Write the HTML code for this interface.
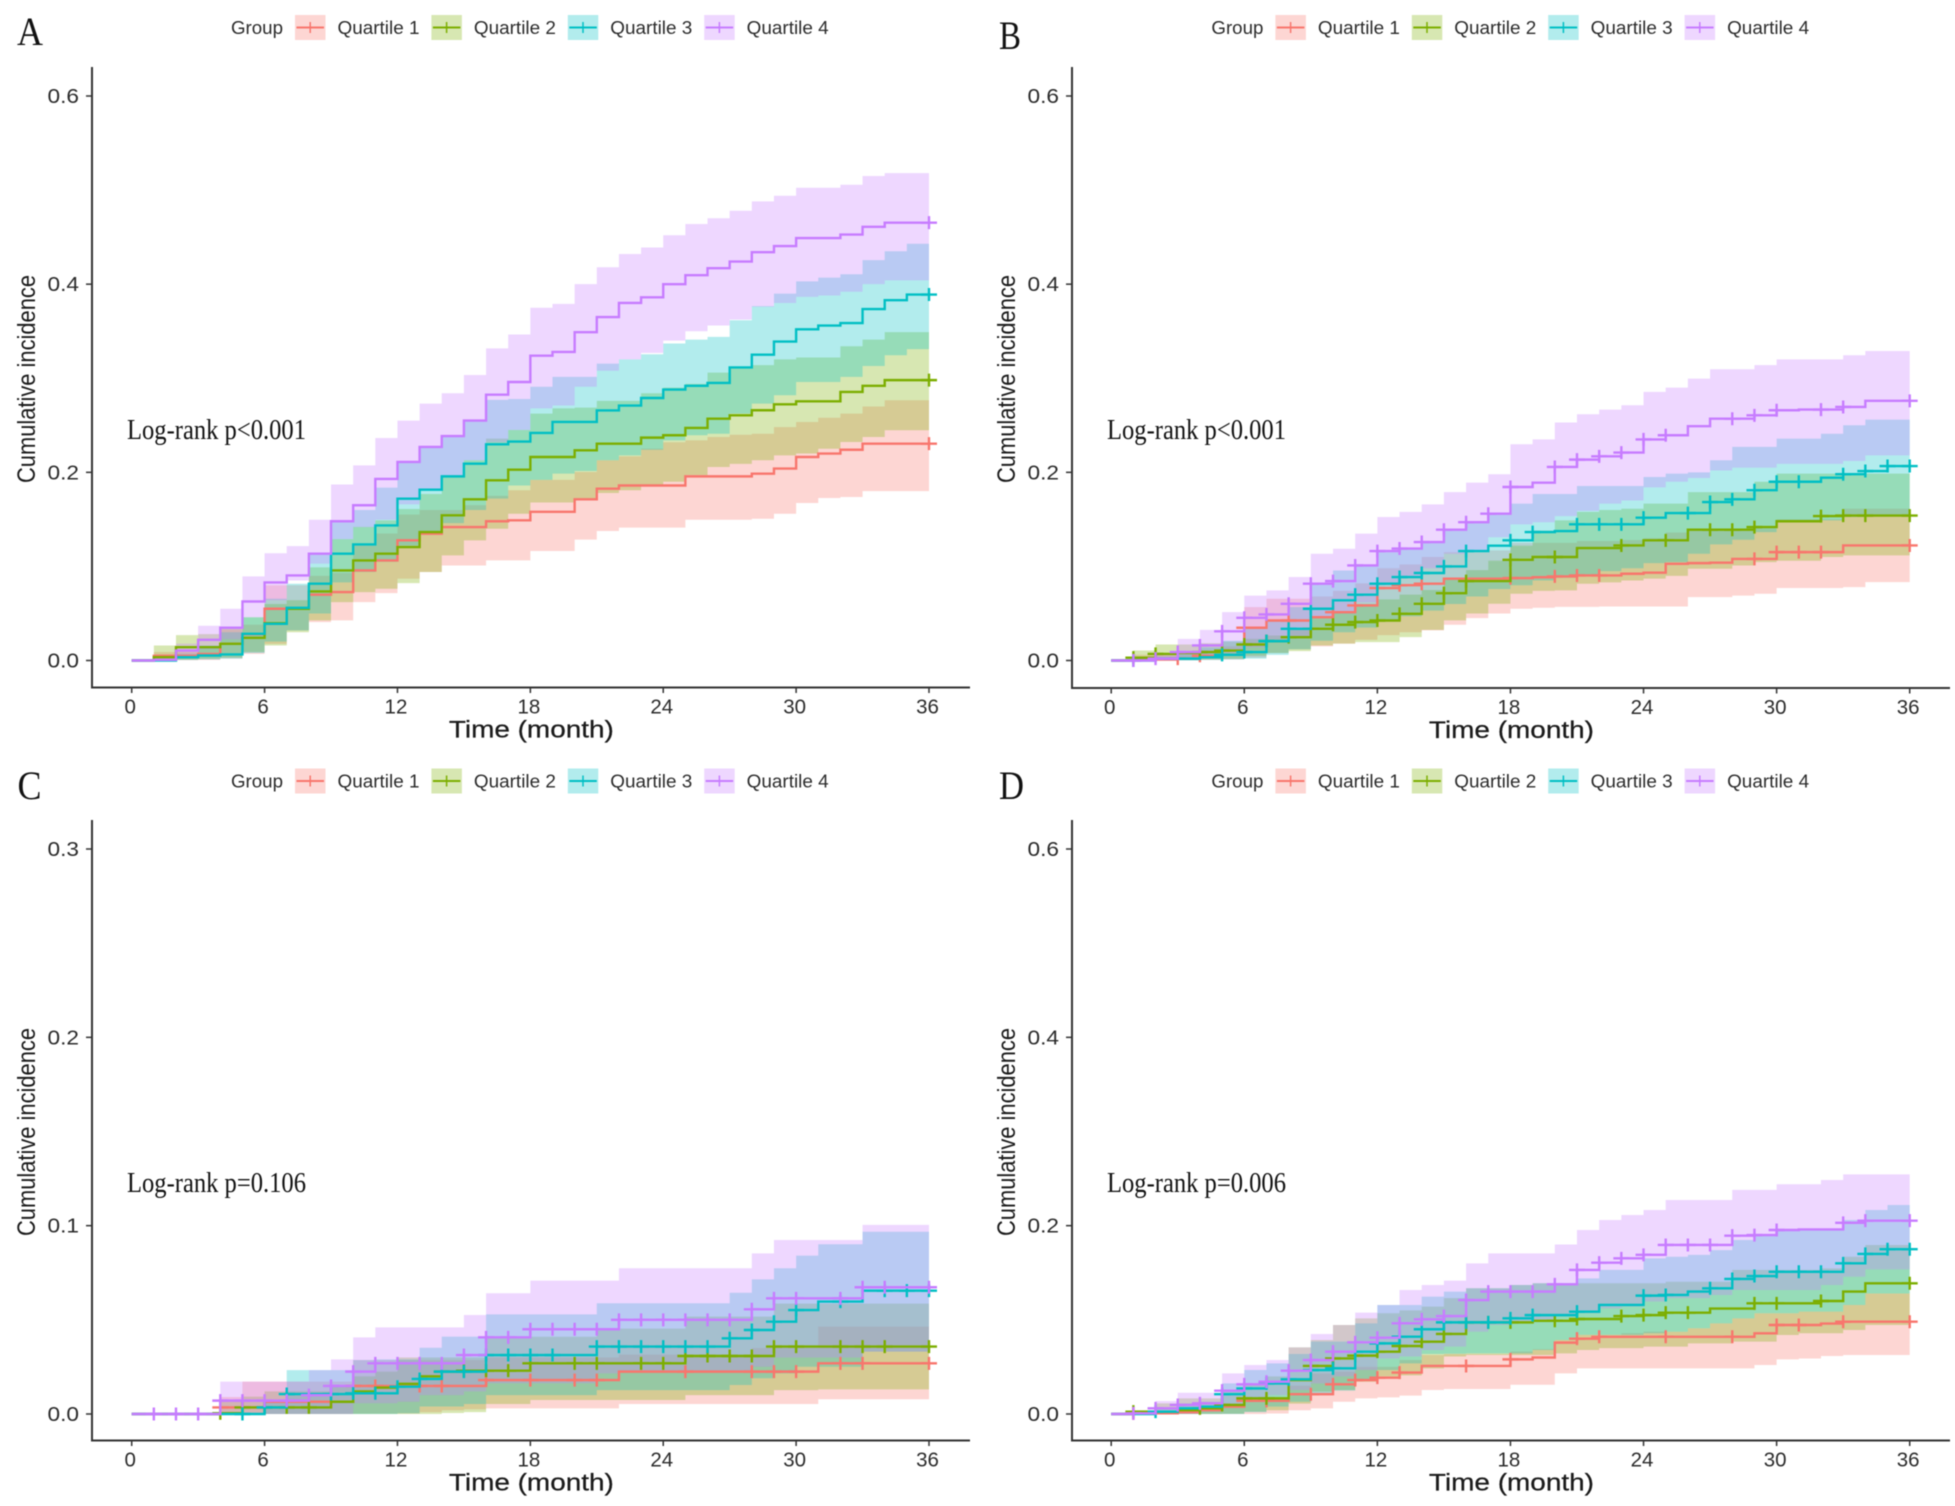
<!DOCTYPE html>
<html lang="en">
<head>
<meta charset="utf-8">
<title>Cumulative incidence by quartile</title>
<style>
html,body{margin:0;padding:0;background:#fff;width:1955px;height:1506px;overflow:hidden}
svg{display:block;filter:blur(0.6px)}
text{font-family:"Liberation Sans",sans-serif}
.serif{font-family:"Liberation Serif",serif}
</style>
</head>
<body>
<svg id="figure" xmlns="http://www.w3.org/2000/svg" width="1955" height="1506" viewBox="0 0 1955 1506"></svg>
<script>
// ---------- shared labels ----------
const xTickValues = [0, 6, 12, 18, 24, 30, 36];
const yTicksWide = [0, 0.2, 0.4, 0.6];
const yTicksNarrow = [0, 0.1, 0.2, 0.3];
const legendLabels = ['Quartile 1', 'Quartile 2', 'Quartile 3', 'Quartile 4'];
const seriesColors = ['#F8766D', '#7CAE00', '#00BFC4', '#C77CFF'];

// ---------- Panel A (value per month, index = month 0..36) ----------
const a_q1 = [0,.005,.005,.007,.0177,.028,.055,.055,.07,.0727,.0957,.1064,.1277,.1348,.1418,.1418,.148,.149,.158,.158,.1713,.1826,.186,.186,.186,.1957,.1957,.1957,.1986,.204,.2163,.22,.224,.2305,.2305,.2305,.2305];
const a_q1_up = [0,.009,.009,.013,.033,.038,.08,.08,.09,.093,.122,.135,.155,.16,.16,.165,.175,.181,.192,.192,.2004,.2128,.217,.225,.232,.234,.2376,.24,.241,.248,.2535,.258,.2624,.27,.2766,.2766,.2766];
const a_q1_lo = [0,0,.0003,.0005,.002,.007,.0177,.032,.0408,.0426,.062,.0716,.087,.094,.101,.101,.1064,.1064,.1164,.1164,.1285,.1377,.1412,.1412,.1412,.1496,.1496,.1496,.1507,.156,.1674,.1727,.1738,.18,.18,.18,.18];
const a_q2 = [0,.0035,.0142,.0142,.0177,.0241,.0397,.055,.0734,.0957,.1064,.1135,.1206,.1365,.1543,.1713,.1915,.2028,.2163,.2163,.2234,.2305,.2305,.2369,.2394,.2472,.257,.2606,.266,.2723,.2755,.2755,.2855,.292,.298,.298,.298];
const a_q2_up = [0,.016,.027,.028,.035,.046,.06,.064,.099,.129,.142,.149,.161,.177,.195,.2128,.2358,.245,.2624,.268,.2688,.276,.276,.284,.29,.294,.306,.312,.314,.32,.322,.322,.334,.341,.349,.349,.349];
const a_q2_lo = [0,0,.001,.002,.003,.009,.016,.03,.0426,.0621,.0727,.0762,.0823,.094,.1117,.1277,.14,.156,.168,.168,.172,.178,.181,.186,.19,.197,.2057,.209,.2128,.218,.22,.225,.2323,.2376,.2447,.2447,.2447];
const a_q3 = [0,0,.0035,.0053,.0064,.0284,.039,.056,.0816,.1135,.1234,.1436,.172,.1816,.1957,.2092,.2298,.2327,.2419,.2536,.2536,.2658,.271,.279,.288,.292,.295,.3115,.325,.339,.352,.356,.3587,.3735,.383,.389,.389];
const a_q3_up = [0,0,.007,.016,.03,.046,.0656,.0816,.113,.148,.16,.1837,.211,.227,.238,.2546,.277,.278,.291,.3014,.3014,.3156,.32,.3255,.337,.341,.344,.3617,.3766,.39,.403,.407,.4106,.4255,.435,.443,.443];
const a_q3_lo = [0,0,.0005,.001,.002,.008,.02,.032,.05,.083,.094,.105,.122,.135,.146,.16,.172,.186,.192,.1986,.2014,.2128,.218,.224,.234,.2394,.241,.2624,.273,.282,.296,.296,.3014,.313,.3245,.331,.331];
const a_q4 = [0,.0007,.0106,.022,.0348,.0627,.083,.0904,.1135,.148,.165,.193,.211,.227,.2385,.255,.2825,.296,.324,.328,.349,.365,.38,.386,.4,.4095,.417,.424,.434,.4405,.449,.449,.4527,.461,.4654,.4654,.4654];
const a_q4_up = [0,.003,.018,.037,.055,.0894,.114,.1216,.1496,.187,.2074,.2365,.255,.273,.284,.3034,.3318,.3465,.375,.379,.4,.418,.432,.439,.452,.464,.47,.478,.488,.494,.5025,.5025,.5056,.515,.518,.518,.518];
const a_q4_lo = [0,0,.004,.012,.0226,.046,.064,.085,.103,.129,.1418,.1496,.166,.181,.195,.2128,.232,.245,.268,.271,.291,.308,.32,.327,.34,.35,.356,.3625,.376,.38,.3865,.388,.392,.4,.404,.404,.404];
const a_censor_q1 = [36];
const a_censor_q2 = [36];
const a_censor_q3 = [36];
const a_censor_q4 = [36];

// ---------- Panel B ----------
const b_q1 = [0,.001,.001,.002,.005,.006,.0348,.0425,.0425,.046,.0514,.0585,.077,.08,.0816,.087,.087,.087,.0876,.0885,.0894,.0904,.0904,.0922,.0933,.1028,.1035,.104,.108,.108,.1152,.1152,.1152,.1223,.1223,.1223,.1223];
const b_q1_up = [0,.006,.006,.009,.011,.015,.0567,.0656,.0656,.068,.074,.082,.098,.102,.11,.115,.115,.117,.125,.125,.125,.127,.127,.128,.13,.136,.138,.138,.14,.14,.15,.15,.15,.1613,.1613,.1613,.1613];
const b_q1_lo = [0,0,0,.0003,.0005,.001,.003,.008,.012,.015,.018,.022,.027,.03,.032,.038,.045,.05,.055,.056,.057,.057,.0574,.0574,.0574,.0574,.0674,.0674,.069,.071,.077,.077,.077,.078,.0833,.0833,.0833];
const b_q2 = [0,.003,.007,.008,.009,.0106,.017,.0206,.0248,.0337,.038,.0408,.0425,.0496,.0603,.0716,.0844,.0844,.107,.11,.11,.1195,.1195,.1223,.1277,.1277,.139,.139,.139,.1418,.148,.148,.1535,.154,.154,.154,.154];
const b_q2_up = [0,.0106,.017,.017,.0184,.02,.023,.0266,.0337,.045,.052,.06,.065,.07,.075,.087,.096,.106,.122,.138,.149,.158,.16,.1613,.1667,.1667,.179,.179,.179,.19,.1986,.1986,.1986,.1986,.1986,.1986,.1986];
const b_q2_lo = [0,0,.0005,.001,.0015,.002,.005,.008,.01,.016,.018,.0195,.0195,.0248,.0326,.0426,.05,.0603,.071,.074,.0745,.0816,.083,.085,.087,.09,.0975,.0975,.101,.1046,.106,.106,.11,.1117,.1117,.1117,.1117];
const b_q3 = [0,0,.002,.002,.0035,.006,.009,.0206,.0337,.055,.064,.07,.0816,.0887,.093,.1,.1163,.122,.1277,.1365,.1376,.1447,.1447,.1447,.1518,.1567,.1567,.1684,.1713,.181,.19,.19,.1943,.198,.2014,.2067,.2067];
const b_q3_up = [0,0,.004,.009,.014,.021,.0355,.0425,.0567,.0816,.0957,.101,.1152,.119,.126,.139,.147,.156,.1667,.177,.177,.1855,.1855,.1855,.195,.1986,.2,.2128,.227,.227,.2358,.2358,.241,.25,.256,.256,.256];
const b_q3_lo = [0,0,0,0,.0005,.001,.002,.006,.012,.021,.03,.035,.043,.047,.053,.06,.068,.076,.08,.085,.088,.09,.095,.098,.1035,.1046,.1135,.1234,.1283,.1365,.148,.148,.149,.1525,.154,.154,.154];
const b_q4 = [0,0,.002,.009,.016,.031,.0454,.049,.0603,.0816,.0844,.101,.1163,.119,.1259,.139,.147,.156,.1844,.189,.2057,.2135,.217,.221,.235,.2394,.249,.257,.257,.2606,.266,.2667,.2667,.2695,.276,.276,.276];
const b_q4_up = [0,.001,.008,.023,.0326,.0514,.069,.0745,.0887,.1135,.1188,.1348,.1525,.158,.166,.179,.189,.198,.2298,.235,.253,.2617,.2667,.2713,.2855,.29,.2996,.3096,.3096,.314,.32,.32,.32,.3245,.329,.329,.329];
const b_q4_lo = [0,0,.0003,.001,.003,.008,.014,.022,.025,.045,.05,.062,.08,.088,.098,.1135,.117,.131,.1447,.147,.1535,.159,.1667,.17,.184,.19,.194,.202,.205,.205,.209,.209,.209,.212,.218,.218,.218];
const b_censor_q1 = [3,4,6,8,10,11,12,13,14,18,20,21,22,29,30,31,32,36];
const b_censor_q2 = [1,2,4,5,6,7,8,9,10,11,12,13,14,15,16,18,20,23,25,27,28,29,32,33,34,36];
const b_censor_q3 = [1,5,6,7,8,9,11,12,13,14,15,16,18,19,21,22,23,24,26,27,28,29,30,31,33,34,35,36];
const b_censor_q4 = [1,2,3,4,5,6,7,8,9,10,11,12,13,14,15,16,17,18,20,21,22,23,24,25,28,29,30,32,33,36];

// ---------- Panel C ----------
const c_q1 = [0,0,0,0,.0035,.0035,.0065,.0065,.0065,.0065,.0149,.0149,.0149,.0149,.0149,.0149,.018,.018,.018,.018,.018,.018,.0225,.0225,.0225,.0225,.0225,.0225,.0225,.0225,.0225,.0269,.0269,.0269,.0269,.0269,.0269];
const c_q1_up = [0,0,0,0,.009,.0172,.0172,.0172,.0172,.0172,.0287,.0287,.0287,.0287,.0287,.0287,.03,.03,.03,.03,.03,.03,.0315,.0315,.0315,.0315,.0315,.0315,.035,.035,.035,.0464,.0464,.0464,.0464,.0464,.0464];
const c_q1_lo = [0,0,0,0,0,0,0,0,0,0,.0002,.0002,.0003,.001,.002,.0025,.003,.003,.003,.003,.003,.003,.0053,.0053,.0053,.0053,.0053,.0053,.0053,.0053,.0053,.0078,.0078,.0078,.0078,.0078,.0078];
const c_q2 = [0,0,0,0,.0004,.0035,.0035,.0035,.0035,.0065,.012,.014,.016,.02,.0225,.023,.023,.023,.0269,.0269,.0269,.0269,.0269,.0269,.0269,.0308,.0308,.0308,.0308,.0358,.0358,.0358,.0358,.0358,.0358,.0358,.0358];
const c_q2_up = [0,0,0,0,.0074,.0092,.012,.012,.012,.0154,.02,.0225,.03,.03,.03,.03,.041,.041,.041,.041,.041,.0453,.0453,.0453,.0453,.0517,.0517,.0517,.0517,.0586,.0586,.0586,.0586,.0586,.0586,.0586,.0586];
const c_q2_lo = [0,0,0,0,0,0,0,0,0,0,0,0,0,0,.0005,.001,.0053,.0053,.0074,.0074,.0074,.0074,.0074,.0074,.0074,.01,.01,.01,.01,.0127,.0127,.0131,.0131,.0131,.0131,.0131,.0131];
const c_q3 = [0,0,0,0,0,0,.0035,.0106,.0106,.0106,.011,.011,.0145,.0186,.0225,.0225,.0313,.0313,.0313,.0313,.0313,.0358,.0358,.0358,.0358,.0358,.0358,.0402,.0446,.049,.0552,.0597,.0597,.0655,.0655,.0655,.0655];
const c_q3_up = [0,0,0,0,0,0,.0074,.0233,.0233,.0233,.0287,.029,.029,.0352,.0411,.0411,.0529,.0529,.0529,.0529,.0529,.0588,.0588,.0588,.0588,.0588,.0588,.0644,.0715,.0774,.0841,.0901,.0901,.0968,.0968,.0968,.0968];
const c_q3_lo = [0,0,0,0,0,0,0,0,0,0,0,0,.0004,.004,.004,.0053,.01,.01,.01,.01,.01,.0127,.0127,.0127,.0127,.0127,.0127,.0154,.019,.0216,.0251,.0251,.0251,.0331,.0331,.0331,.0331];
const c_q4 = [0,0,0,0,.0071,.0071,.0071,.0071,.01,.0149,.0225,.0269,.0269,.0269,.0269,.0313,.0407,.0407,.045,.045,.045,.045,.05,.05,.05,.05,.05,.05,.0556,.0614,.0614,.0614,.0614,.0673,.0673,.0673,.0673];
const c_q4_up = [0,0,0,0,.0172,.0172,.0172,.0172,.0233,.029,.0407,.046,.046,.046,.046,.0526,.0641,.0641,.0708,.0708,.0708,.0708,.0774,.0774,.0774,.0774,.0774,.0774,.0853,.0924,.0924,.0924,.0924,.1004,.1004,.1004,.1004];
const c_q4_lo = [0,0,0,0,0,0,0,0,0,0,.0057,.0057,.0065,.01,.01,.012,.0163,.0163,.0163,.0163,.0163,.0216,.0225,.0225,.0225,.0225,.0225,.0225,.0251,.03,.03,.03,.03,.0331,.0331,.0331,.0331];
const c_censor_q1 = [4,7,8,9,10,11,13,14,16,18,20,21,25,28,29,30,32,33,36];
const c_censor_q2 = [4,5,6,7,8,14,15,16,17,18,20,21,23,24,25,26,27,28,29,30,32,33,34,36];
const c_censor_q3 = [5,6,7,9,10,11,12,13,14,15,16,17,18,19,21,22,23,24,25,26,27,28,29,30,32,34,35,36];
const c_censor_q4 = [1,2,3,4,5,6,7,8,9,10,11,12,13,14,15,16,17,18,19,20,21,22,23,24,25,26,27,28,29,30,32,33,34,36];

// ---------- Panel D ----------
const d_q1 = [0,.0007,.0007,.002,.004,.0078,.014,.014,.021,.021,.0315,.036,.0386,.044,.051,.051,.051,.051,.058,.06,.0758,.08,.082,.082,.082,.082,.082,.082,.082,.0857,.0945,.0945,.096,.098,.098,.098,.098];
const d_q1_up = [0,.003,.003,.004,.006,.0113,.0166,.018,.03,.043,.045,.05,.05,.0573,.0626,.0637,.0637,.0637,.0662,.0687,.0786,.084,.084,.0857,.0874,.0874,.091,.0963,.1016,.107,.107,.1087,.1087,.1158,.128,.128,.128];
const d_q1_lo = [0,0,0,0,0,0,0,.0005,.004,.006,.013,.0166,.0177,.0195,.0255,.0265,.0265,.0265,.031,.031,.0432,.0485,.0485,.0485,.0485,.0485,.0485,.0485,.0485,.052,.058,.059,.0616,.0626,.0626,.0626,.0626];
const d_q2 = [0,.0025,.0025,.004,.006,.0096,.0166,.0166,.036,.051,.059,.062,.0662,.0722,.0768,.085,.0973,.0973,.0973,.099,.099,.1009,.1009,.104,.105,.1076,.1076,.112,.112,.1175,.1175,.1175,.12,.13,.1388,.1388,.1388];
const d_q2_up = [0,.004,.0113,.0166,.0166,.0255,.032,.04,.0708,.0786,.0945,.1016,.107,.11,.114,.123,.1335,.1335,.137,.1388,.1388,.1388,.1388,.1388,.1388,.1405,.1405,.1405,.153,.153,.153,.153,.1547,.167,.1795,.1795,.1795];
const d_q2_lo = [0,0,0,0,0,.0003,.0025,.004,.011,.0237,.0255,.0343,.04,.041,.0485,.061,.0626,.0626,.0626,.0626,.0644,.068,.07,.07,.0715,.0715,.075,.075,.0768,.0768,.0839,.0857,.0857,.0892,.0945,.0945,.0945];
const d_q3 = [0,0,.0025,.006,.0078,.021,.0272,.0325,.0368,.0467,.0485,.0662,.075,.0821,.09,.0973,.0973,.0973,.1016,.105,.105,.1087,.1158,.1158,.1257,.1264,.13,.1335,.1434,.1465,.151,.151,.151,.16,.17,.175,.175];
const d_q3_up = [0,0,.006,.0113,.013,.0325,.0467,.0538,.0637,.0768,.0768,.0963,.1158,.1158,.1246,.13,.1335,.1335,.137,.1388,.1388,.144,.153,.153,.1653,.167,.169,.174,.1848,.189,.1954,.1954,.1954,.206,.2166,.222,.222];
const d_q3_lo = [0,0,0,0,0,0,.002,.0078,.013,.02,.0248,.036,.0467,.0538,.0637,.064,.0644,.0644,.0644,.068,.0786,.084,.084,.084,.0857,.0874,.091,.0963,.1016,.107,.107,.1087,.1087,.1158,.128,.128,.128];
const d_q4 = [0,.0007,.006,.0096,.0113,.0248,.0315,.0343,.046,.0573,.0662,.0761,.081,.0963,.1005,.104,.121,.13,.13,.13,.1377,.153,.1607,.1653,.169,.1795,.1795,.1795,.1894,.19,.1954,.196,.196,.203,.2053,.2053,.2053];
const d_q4_up = [0,.004,.0138,.0226,.0226,.0432,.052,.0573,.0708,.085,.0945,.1076,.1158,.1317,.137,.1416,.16,.1706,.1706,.1706,.18,.1954,.206,.2113,.2166,.2273,.2273,.2273,.238,.238,.244,.244,.2485,.2545,.2545,.2545,.2545];
const d_q4_lo = [0,0,0,.0003,.0025,.0078,.0149,.02,.0255,.0325,.04,.0467,.059,.061,.068,.0715,.0874,.0945,.0963,.1,.1034,.107,.1122,.114,.1193,.123,.123,.1264,.1317,.1317,.1317,.1317,.137,.1458,.1536,.1536,.1536];
const d_censor_q1 = [1,6,7,9,10,11,12,13,16,18,21,22,25,28,30,31,33,36];
const d_censor_q2 = [1,4,5,6,7,9,10,11,12,13,14,15,16,17,18,20,21,23,24,25,26,29,30,32,36];
const d_censor_q3 = [2,5,6,7,8,9,10,11,12,13,14,15,16,17,18,19,21,24,25,27,28,29,30,31,32,33,34,35,36];
const d_censor_q4 = [1,2,3,4,5,6,7,8,9,10,11,12,13,14,15,16,17,18,19,20,21,22,23,24,25,26,27,28,29,30,33,34,36];

// ---------- panel layout ----------
const panels = [
  {id:'a', letter:'A', letterX:17, letterY:45, letterW:26, pvalue:'Log-rank p<0.001', x0:131.7, x36:929, y0:660.5, yMaxPx:96, yMax:0.6, yTicks:yTicksWide, axisX:92, axisTop:67, axisBottom:687.5, axisRight:970, legendX:295, legendY:27.5,
   lines:[a_q1,a_q2,a_q3,a_q4], uppers:[a_q1_up,a_q2_up,a_q3_up,a_q4_up], lowers:[a_q1_lo,a_q2_lo,a_q3_lo,a_q4_lo], censors:[a_censor_q1,a_censor_q2,a_censor_q3,a_censor_q4]},
  {id:'b', letter:'B', letterX:999, letterY:49, letterW:22, pvalue:'Log-rank p<0.001', x0:1111.2, x36:1909.7, y0:660.5, yMaxPx:96, yMax:0.6, yTicks:yTicksWide, axisX:1072, axisTop:67, axisBottom:688, axisRight:1950, legendX:1275.4, legendY:27.5,
   lines:[b_q1,b_q2,b_q3,b_q4], uppers:[b_q1_up,b_q2_up,b_q3_up,b_q4_up], lowers:[b_q1_lo,b_q2_lo,b_q3_lo,b_q4_lo], censors:[b_censor_q1,b_censor_q2,b_censor_q3,b_censor_q4]},
  {id:'c', letter:'C', letterX:17.5, letterY:799, letterW:24, pvalue:'Log-rank p=0.106', x0:131.7, x36:929, y0:1414, yMaxPx:849, yMax:0.3, yTicks:yTicksNarrow, axisX:92, axisTop:820, axisBottom:1440.5, axisRight:970, legendX:295, legendY:781,
   lines:[c_q1,c_q2,c_q3,c_q4], uppers:[c_q1_up,c_q2_up,c_q3_up,c_q4_up], lowers:[c_q1_lo,c_q2_lo,c_q3_lo,c_q4_lo], censors:[c_censor_q1,c_censor_q2,c_censor_q3,c_censor_q4]},
  {id:'d', letter:'D', letterX:999, letterY:799, letterW:25, pvalue:'Log-rank p=0.006', x0:1111.2, x36:1909.7, y0:1414, yMaxPx:849, yMax:0.6, yTicks:yTicksWide, axisX:1072, axisTop:820, axisBottom:1440.5, axisRight:1950, legendX:1275.4, legendY:781,
   lines:[d_q1,d_q2,d_q3,d_q4], uppers:[d_q1_up,d_q2_up,d_q3_up,d_q4_up], lowers:[d_q1_lo,d_q2_lo,d_q3_lo,d_q4_lo], censors:[d_censor_q1,d_censor_q2,d_censor_q3,d_censor_q4]}
];

const NS = 'http://www.w3.org/2000/svg';
const root = document.getElementById('figure');

function make(tag, parent, props, txt) {
  const node = document.createElementNS(NS, tag);
  for (const k in props) node.setAttribute(k, props[k]);
  if (txt !== undefined) node.textContent = txt;
  parent.appendChild(node);
  return node;
}

function stepLinePath(values, xScale, yScale) {
  let d = 'M' + xScale(0).toFixed(2) + ' ' + yScale(values[0]).toFixed(2);
  for (let m = 1; m < values.length; m++) {
    d += 'H' + xScale(m).toFixed(2) + 'V' + yScale(values[m]).toFixed(2);
  }
  return d;
}

function ribbonPath(upper, lower, xScale, yScale) {
  const last = upper.length - 1;
  let d = 'M' + xScale(0).toFixed(2) + ' ' + yScale(upper[0]).toFixed(2);
  for (let m = 0; m < last; m++) {
    d += 'L' + xScale(m).toFixed(2) + ' ' + yScale(upper[m]).toFixed(2);
    d += 'L' + xScale(m + 1).toFixed(2) + ' ' + yScale(upper[m]).toFixed(2);
  }
  for (let m = last - 1; m >= 0; m--) {
    d += 'L' + xScale(m + 1).toFixed(2) + ' ' + yScale(lower[m]).toFixed(2);
    d += 'L' + xScale(m).toFixed(2) + ' ' + yScale(lower[m]).toFixed(2);
  }
  return d + 'Z';
}

panels.forEach(function (p) {
  const xScale = function (m) { return p.x0 + (p.x36 - p.x0) * m / 36; };
  const yScale = function (v) { return p.y0 - (p.y0 - p.yMaxPx) * v / p.yMax; };

  const g = make('g', root, {});
  
  

  // panel letter
  const letter = make('text', g, {x:p.letterX, y:p.letterY, 'font-size':40, fill:'#111', class:'serif', textLength:p.letterW, lengthAdjust:'spacingAndGlyphs'}, p.letter);
  
  

  // legend
  const legend = make('g', g, {});
  
  
  const legendTitle = make('text', legend, {x:p.legendX - 64, y:p.legendY + 6.5, 'font-size':18, fill:'#2b2b2b', textLength:52, lengthAdjust:'spacingAndGlyphs'}, 'Group');
  
  
  legendLabels.forEach(function (label, i) {
    const kx = p.legendX + i * 136.4;
    const entry = make('g', legend, {});
    
    
    make('rect', entry, {x:kx, y:p.legendY - 12.5, width:30.5, height:25, fill:seriesColors[i], 'fill-opacity':0.3});
    make('line', entry, {x1:kx + 1.5, x2:kx + 29, y1:p.legendY, y2:p.legendY, stroke:seriesColors[i], 'stroke-width':2});
    make('line', entry, {x1:kx + 15.2, x2:kx + 15.2, y1:p.legendY - 5.5, y2:p.legendY + 5.5, stroke:seriesColors[i], 'stroke-width':1.5});
    make('text', entry, {x:kx + 42.5, y:p.legendY + 6.5, 'font-size':18, fill:'#2b2b2b', textLength:82, lengthAdjust:'spacingAndGlyphs'}, label);
  });

  // ribbons
  const ribbonLayer = make('g', g, {});
  
  
  p.uppers.forEach(function (upper, i) {
    const band = make('path', ribbonLayer, {d:ribbonPath(upper, p.lowers[i], xScale, yScale), fill:seriesColors[i], 'fill-opacity':0.3});
    
    
  });

  // lines and censor ticks
  p.lines.forEach(function (values, i) {
    const sg = make('g', g, {});
    
    
    make('path', sg, {d:stepLinePath(values, xScale, yScale), fill:'none', stroke:seriesColors[i], 'stroke-width':2.4, 'stroke-linejoin':'miter'});
    p.censors[i].forEach(function (m) {
      const cx = xScale(m);
      const cy = yScale(values[m]);
      const mark = make('path', sg, {d:'M' + (cx - 8).toFixed(2) + ' ' + cy.toFixed(2) + 'h16M' + cx.toFixed(2) + ' ' + (cy - 6.5).toFixed(2) + 'v13', fill:'none', stroke:seriesColors[i], 'stroke-width':2.4});
      
      
    });
  });

  // axes
  const axes = make('g', g, {});
  
  
  const yAxis = make('line', axes, {x1:p.axisX, x2:p.axisX, y1:p.axisTop, y2:p.axisBottom + 1, stroke:'#333', 'stroke-width':2});
  
  
  const xAxis = make('line', axes, {x1:p.axisX - 1, x2:p.axisRight, y1:p.axisBottom, y2:p.axisBottom, stroke:'#333', 'stroke-width':2});
  
  

  p.yTicks.forEach(function (v) {
    make('line', axes, {x1:p.axisX - 6, x2:p.axisX, y1:yScale(v), y2:yScale(v), stroke:'#333', 'stroke-width':1.5});
    const t = make('text', axes, {x:p.axisX - 13, y:yScale(v) + 7, 'font-size':20.5, fill:'#2b2b2b', 'text-anchor':'end', textLength:31.5, lengthAdjust:'spacingAndGlyphs'}, v.toFixed(1));
    
    
  });
  xTickValues.forEach(function (m) {
    make('line', axes, {x1:xScale(m), x2:xScale(m), y1:p.axisBottom, y2:p.axisBottom + 5.5, stroke:'#333', 'stroke-width':1.5});
    const t = make('text', axes, {x:xScale(m) - 1.5, y:p.axisBottom + 26, 'font-size':20.5, fill:'#2b2b2b', 'text-anchor':'middle'}, String(m));
    
    
  });

  const xTitle = make('text', axes, {x:(p.x0 + p.x36) / 2 + 1, y:p.axisBottom + 50, 'font-size':24, fill:'#1a1a1a', stroke:'#1a1a1a', 'stroke-width':0.25, 'text-anchor':'middle', textLength:165, lengthAdjust:'spacingAndGlyphs'}, 'Time (month)');
  
  

  const titleX = p.axisX - 57;
  const titleY = p.axisTop + 312;
  const yTitle = make('text', axes, {x:titleX, y:titleY, 'font-size':25, fill:'#1a1a1a', 'text-anchor':'middle', textLength:208, lengthAdjust:'spacingAndGlyphs', transform:'rotate(-90 ' + titleX + ' ' + titleY + ')'}, 'Cumulative incidence');
  
  

  const pText = make('text', g, {x:p.axisX + 35, y:p.axisTop + 372, 'font-size':28, fill:'#111', class:'serif', textLength:179, lengthAdjust:'spacingAndGlyphs'}, p.pvalue);
  
  
});
</script>
</body>
</html>
